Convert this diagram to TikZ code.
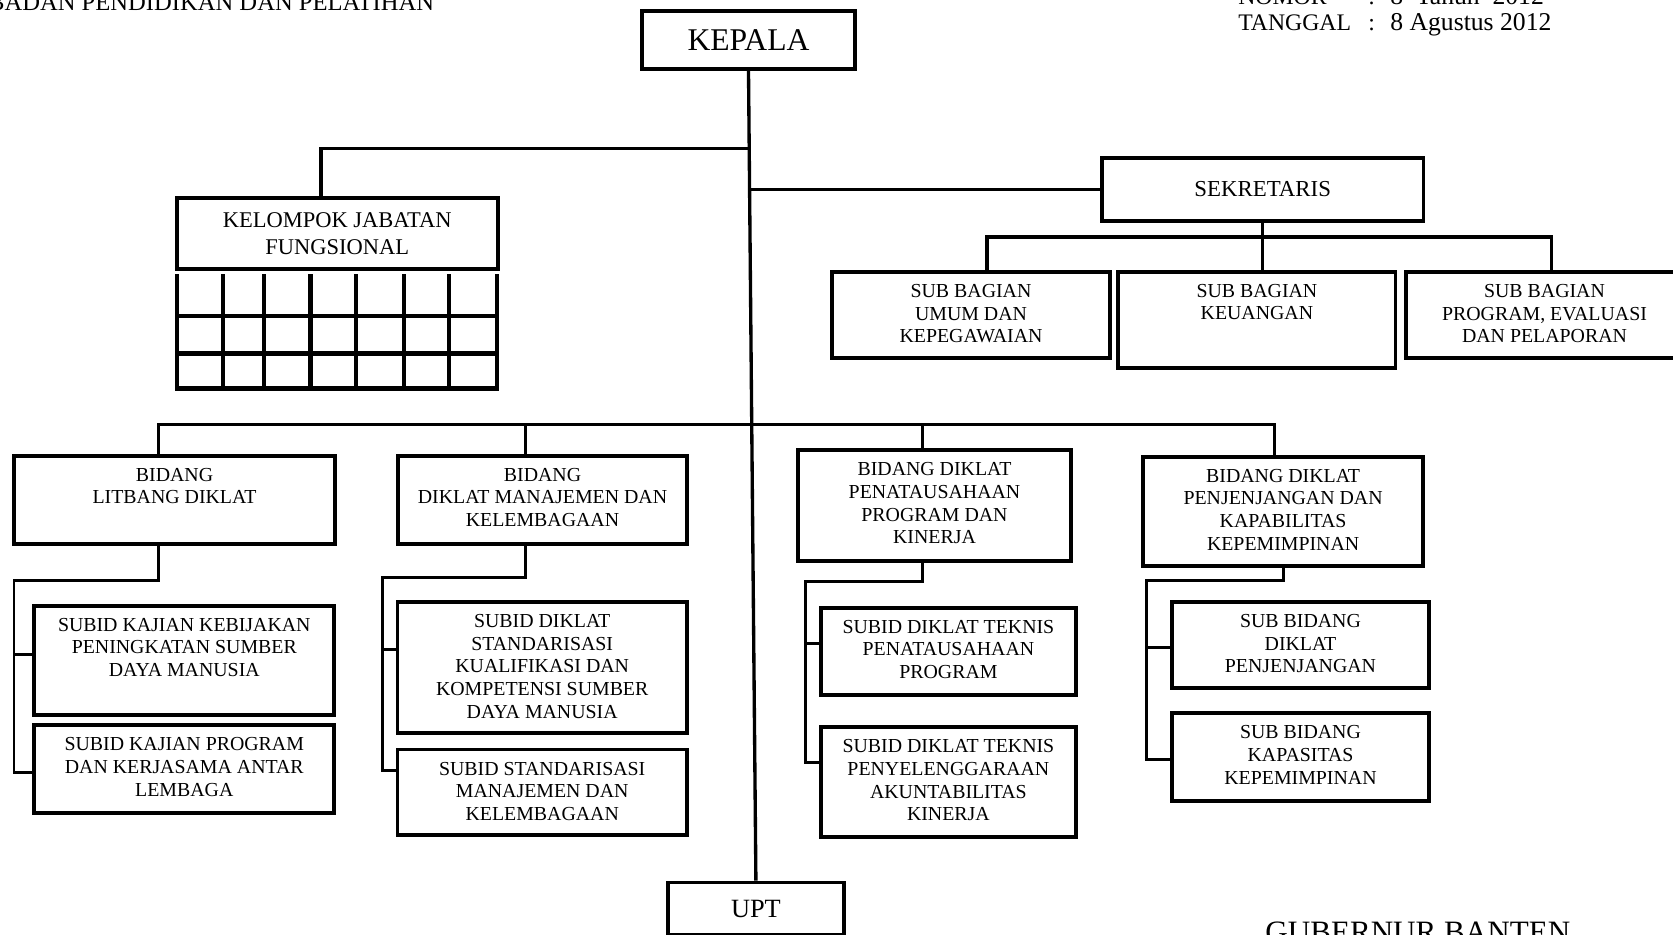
\documentclass[tikz,border=0pt]{standalone}
\usepackage{fontspec}
\setmainfont{Liberation Serif}
\usetikzlibrary{positioning}
\tikzset{Box/.style={%
    shape=rectangle,%
    draw=black,%
    line width=2.1pt,%
    inner sep=0pt,%
    align=center,%
}}
\tikzset{BoxText/.style={%
    align=center,%
    inner sep=0pt,%
    font=\fontsize{11.3}{12.9}\selectfont,%
}}
\tikzset{Header/.style={%
    inner sep=0pt,%
    font=\fontsize{13.5}{16}\selectfont,%
}}
\tikzset{HeaderValue/.style={%
    inner sep=0pt,%
    font=\fontsize{14.6}{16}\selectfont,%
}}
\tikzset{Line/.style={%
    line width=1.9pt,%
}}
\tikzset{SubLine/.style={%
    line width=1.7pt,%
}}
\tikzset{GridLine/.style={%
    line width=2.5pt,%
    line cap=rect,%
}}

\begin{document}
\begin{tikzpicture}[x=0.02cm, y=-0.02cm]
    \useasboundingbox (0,0) rectangle (1673,934);
    \clip (0,0) rectangle (1673,934);

    % header texts
    \node[Header, anchor=base east, font=\fontsize{14}{16}\selectfont] (hdTitle) at (434.6,10) {BADAN PENDIDIKAN DAN PELATIHAN};
    \node[Header, anchor=base west] (hdNomor) at (1238,4) {NOMOR};
    \node[Header, anchor=base west] (hdNomorSep) at (1368,4) {:};
    \node[HeaderValue, anchor=base west] (hdNomorVal) at (1390,4) {8~~Tahun~~2012};
    \node[Header, anchor=base west] (hdTanggal) at (1238,30.7) {TANGGAL};
    \node[Header, anchor=base west] (hdTanggalSep) at (1368,30.7) {:};
    \node[HeaderValue, anchor=base west] (hdTanggalVal) at (1390,30.7) {8 Agustus 2012};
    \node[Header, anchor=base west, font=\fontsize{17.7}{20}\selectfont] (hdGubernur) at (1265,942.4) {GUBERNUR BANTEN};

    % top level
    \node[Box, minimum width=4.26cm, minimum height=1.17cm, font=\fontsize{18}{20}\selectfont] (kepala) at (748.5,40) {KEPALA};
    \node[Box, minimum width=6.42cm, minimum height=1.42cm, font=\fontsize{12.8}{15}\selectfont] (kjf) at (337.2,233.8) {KELOMPOK JABATAN\\FUNGSIONAL};
    \node[Box, minimum width=6.43cm, minimum height=1.26cm, font=\fontsize{13}{15}\selectfont] (sekretaris) at (1262.7,189.4) {SEKRETARIS};
    \node[Box, minimum width=3.53cm, minimum height=1.05cm, font=\fontsize{15}{17}\selectfont] (upt) at (755.9,908.7) {UPT};

    % sub bagian
    \node[Box, minimum width=5.55cm, minimum height=1.73cm] (sbUmum) at (971,315) {};
    \node[Box, minimum width=5.55cm, minimum height=1.93cm] (sbKeuangan) at (1256.9,319.9) {};
    \node[Box, minimum width=5.55cm, minimum height=1.73cm] (sbProgram) at (1544.5,315) {};
    \node[BoxText, below=0.28cm of sbUmum.north] (tUmum) {SUB BAGIAN\\UMUM DAN\\KEPEGAWAIAN};
    \node[BoxText, below=0.28cm of sbKeuangan.north] (tKeuangan) {SUB BAGIAN\\KEUANGAN};
    \node[BoxText, below=0.28cm of sbProgram.north] (tProgram) {SUB BAGIAN\\PROGRAM, EVALUASI\\DAN PELAPORAN};

    % bidang
    \node[Box, minimum width=6.42cm, minimum height=1.77cm] (bdLitbang) at (174.5,499.9) {};
    \node[Box, minimum width=5.78cm, minimum height=1.77cm] (bdManajemen) at (542.5,499.9) {};
    \node[Box, minimum width=5.46cm, minimum height=2.21cm] (bdPenatausahaan) at (934.5,505.5) {};
    \node[Box, minimum width=5.61cm, minimum height=2.19cm] (bdPenjenjangan) at (1283.1,511.4) {};
    \node[BoxText, below=0.28cm of bdLitbang.north] (tLitbang) {BIDANG\\LITBANG DIKLAT};
    \node[BoxText, below=0.28cm of bdManajemen.north] (tManajemen) {BIDANG\\DIKLAT MANAJEMEN DAN\\KELEMBAGAAN};
    \node[BoxText, below=0.28cm of bdPenatausahaan.north] (tPenatausahaan) {BIDANG DIKLAT\\PENATAUSAHAAN\\PROGRAM DAN\\KINERJA};
    \node[BoxText, below=0.28cm of bdPenjenjangan.north] (tPenjenjangan) {BIDANG DIKLAT\\PENJENJANGAN DAN\\KAPABILITAS\\KEPEMIMPINAN};

    % sub bidang
    \node[Box, minimum width=6.0cm, minimum height=2.19cm] (sbdKebijakan) at (184.3,660.4) {};
    \node[Box, minimum width=6.0cm, minimum height=1.75cm] (sbdKerjasama) at (184.3,768.9) {};
    \node[Box, minimum width=5.79cm, minimum height=2.63cm] (sbdKualifikasi) at (542.2,667.5) {};
    \node[Box, minimum width=5.79cm, minimum height=1.71cm] (sbdStandarisasi) at (542.2,792.2) {};
    \node[Box, minimum width=5.11cm, minimum height=1.75cm] (sbdTeknisProgram) at (948.4,651.4) {};
    \node[Box, minimum width=5.11cm, minimum height=2.19cm] (sbdAkuntabilitas) at (948.4,782) {};
    \node[Box, minimum width=5.13cm, minimum height=1.72cm] (sbdPenjenjangan) at (1300.5,644.7) {};
    \node[Box, minimum width=5.13cm, minimum height=1.75cm] (sbdKapasitas) at (1300.5,757) {};
    \node[BoxText, below=0.28cm of sbdKebijakan.north] (tKebijakan) {SUBID KAJIAN KEBIJAKAN\\PENINGKATAN SUMBER\\DAYA MANUSIA};
    \node[BoxText, below=0.28cm of sbdKerjasama.north] (tKerjasama) {SUBID KAJIAN PROGRAM\\DAN KERJASAMA ANTAR\\LEMBAGA};
    \node[BoxText, below=0.28cm of sbdKualifikasi.north] (tKualifikasi) {SUBID DIKLAT\\STANDARISASI\\KUALIFIKASI DAN\\KOMPETENSI SUMBER\\DAYA MANUSIA};
    \node[BoxText, below=0.28cm of sbdStandarisasi.north] (tStandarisasi) {SUBID STANDARISASI\\MANAJEMEN DAN\\KELEMBAGAAN};
    \node[BoxText, below=0.28cm of sbdTeknisProgram.north] (tTeknisProgram) {SUBID DIKLAT TEKNIS\\PENATAUSAHAAN\\PROGRAM};
    \node[BoxText, below=0.28cm of sbdAkuntabilitas.north] (tAkuntabilitas) {SUBID DIKLAT TEKNIS\\PENYELENGGARAAN\\AKUNTABILITAS\\KINERJA};
    \node[BoxText, below=0.28cm of sbdPenjenjangan.north] (tSbdPenjenjangan) {SUB BIDANG\\DIKLAT\\PENJENJANGAN};
    \node[BoxText, below=0.28cm of sbdKapasitas.north] (tKapasitas) {SUB BIDANG\\KAPASITAS\\KEPEMIMPINAN};

    % grid under kelompok jabatan fungsional
    \foreach \gx in {176.7,223.3,264.3,310.3,355.7,404,449,496.7}
        \draw[GridLine] (\gx,276) -- (\gx,388.3);
    \foreach \gy in {316,353.3,388.3}
        \draw[GridLine] (176.7,\gy) -- (496.7,\gy);

    % turning points
    \coordinate (kjfTurn) at (321,148.3);
    \coordinate (sekBusL) at (987,237);
    \coordinate (sekBusR) at (1551.7,237);
    \coordinate (bdBusL) at (158.4,424.7);
    \coordinate (bdBusM) at (525.7,424.7);
    \coordinate (bdBusP) at (922.2,424.7);
    \coordinate (bdBusR) at (1274.4,424.7);
    \coordinate (lbTurn) at (158.4,580);
    \coordinate (lbSpine) at (14,580);
    \coordinate (mjTurn) at (525.7,577.3);
    \coordinate (mjSpine) at (382.7,577.3);
    \coordinate (ptTurn) at (922.2,581.3);
    \coordinate (ptSpine) at (805.3,581.3);
    \coordinate (pjTurn) at (1283.1,580.7);
    \coordinate (pjSpine) at (1146.7,580.7);

    % main lines
    \draw[Line] (kepala.south) -- (upt.north);
    \draw[Line] (kjf.north -| kjfTurn) -- (kjfTurn) -- (kjfTurn -| kepala.south);
    \draw[Line] (sekretaris.west) -- (sekretaris.west -| kepala.south);
    \draw[Line] (sekretaris.south) -- (sekretaris.south |- sbKeuangan.north);
    \draw[Line] (sbUmum.north -| sekBusL) -- (sekBusL) -- (sekBusR) -- (sbProgram.north -| sekBusR);
    \draw[Line] (bdLitbang.north -| bdBusL) -- (bdBusL) -- (bdBusR) -- (bdPenjenjangan.north -| bdBusR);
    \draw[Line] (bdBusM) -- (bdManajemen.north -| bdBusM);
    \draw[Line] (bdBusP) -- (bdPenatausahaan.north -| bdBusP);

    % sub bidang lines
    \draw[SubLine] (bdLitbang.south -| lbTurn) -- (lbTurn) -- (lbSpine) |- ([yshift=-0.07cm]sbdKerjasama.west);
    \draw[SubLine] (lbSpine) |- ([yshift=0.12cm]sbdKebijakan.west);
    \draw[SubLine] (bdManajemen.south -| mjTurn) -- (mjTurn) -- (mjSpine) |- ([yshift=0.44cm]sbdStandarisasi.west);
    \draw[SubLine] (mjSpine) |- ([yshift=0.36cm]sbdKualifikasi.west);
    \draw[SubLine] (bdPenatausahaan.south -| ptTurn) -- (ptTurn) -- (ptSpine) |- ([yshift=0.39cm]sbdAkuntabilitas.west);
    \draw[SubLine] (ptSpine) |- ([yshift=0.16cm]sbdTeknisProgram.west);
    \draw[SubLine] (bdPenjenjangan.south) -- (pjTurn) -- (pjSpine) |- ([yshift=-0.04cm]sbdKapasitas.west);
    \draw[SubLine] (pjSpine) |- ([yshift=-0.05cm]sbdPenjenjangan.west);
\end{tikzpicture}
\end{document}
